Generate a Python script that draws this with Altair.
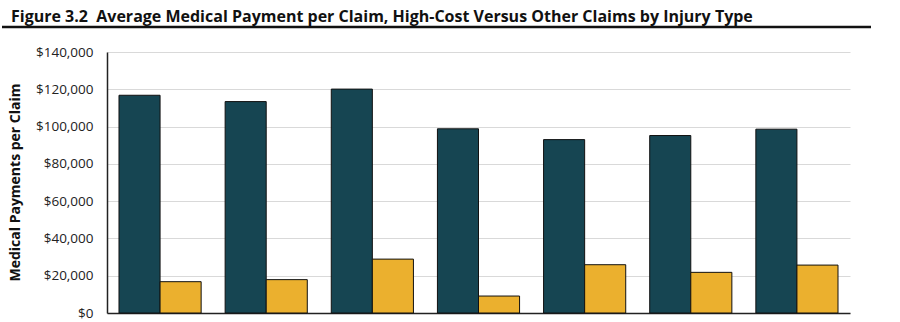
import altair as alt
import pandas as pd

injury_types = ["Injury Type 1", "Injury Type 2", "Injury Type 3", "Injury Type 4",
                "Injury Type 5", "Injury Type 6", "Injury Type 7"]
high_cost = [116800, 113400, 120100, 98800, 93000, 95200, 98600]
other = [16800, 17900, 28900, 9100, 25900, 21800, 25700]
series_names = ["High-Cost Claims", "Other Claims"]
colors = ["#164552", "#ebb02e"]
title_text = "Figure 3.2\u00a0\u00a0Average Medical Payment per Claim, High-Cost Versus Other Claims by Injury Type"

rows = []
for t, h, o in zip(injury_types, high_cost, other):
    rows.append({"type": t, "series": series_names[0], "value": h})
    rows.append({"type": t, "series": series_names[1], "value": o})
df = pd.DataFrame(rows)

FONT = "Open Sans"

bars = alt.Chart(df).mark_bar(stroke="#111111", strokeWidth=1).encode(
    x=alt.X("type:N", sort=injury_types,
            scale=alt.Scale(paddingInner=0.226, paddingOuter=0.113),
            axis=alt.Axis(title=None, labels=False, ticks=False, domainColor="#222222",
                          domainWidth=1.5, grid=False)),
    xOffset=alt.XOffset("series:N", sort=series_names, scale=alt.Scale(paddingInner=0, paddingOuter=0)),
    y=alt.Y("value:Q", scale=alt.Scale(domain=[0, 140000], nice=False),
            axis=alt.Axis(title="Medical Payments per Claim", values=list(range(0, 140001, 20000)),
                          format="$,.0f", ticks=False, labelPadding=14,
                          labelFont=FONT, labelFontSize=13.5, labelColor="#222222",
                          titleFont=FONT, titleFontSize=14, titleFontWeight="bold",
                          titleColor="#111111", titleX=-92, titleY=130,
                          titleAlign="center", titleBaseline="middle", titleAngle=270,
                          domainColor="#222222", domainWidth=1.5,
                          grid=True, gridColor="#d9d9d9", gridWidth=1.2)),
    color=alt.Color("series:N", scale=alt.Scale(domain=series_names, range=colors), legend=None),
)

title_df = pd.DataFrame({"t": [title_text]})
title = alt.Chart(title_df).mark_text(
    align="left", baseline="alphabetic", font=FONT, fontSize=16, fontWeight="bold", color="#111111"
).encode(text="t:N", x=alt.value(-96), y=alt.value(-30))

underline = alt.Chart(title_df).mark_rule(color="#111111", strokeWidth=2.5).encode(
    x=alt.value(-105), x2=alt.value(764), y=alt.value(-25)
)

chart = alt.layer(bars, title, underline).properties(
    width=743, height=261,
    autosize=alt.AutoSizeParams(type="none"),
    padding={"left": 107, "top": 52, "right": 50, "bottom": 9},
    background="white",
).configure_view(stroke=None)

chart.save("out.html", embed_options={"renderer": "svg", "actions": False})
